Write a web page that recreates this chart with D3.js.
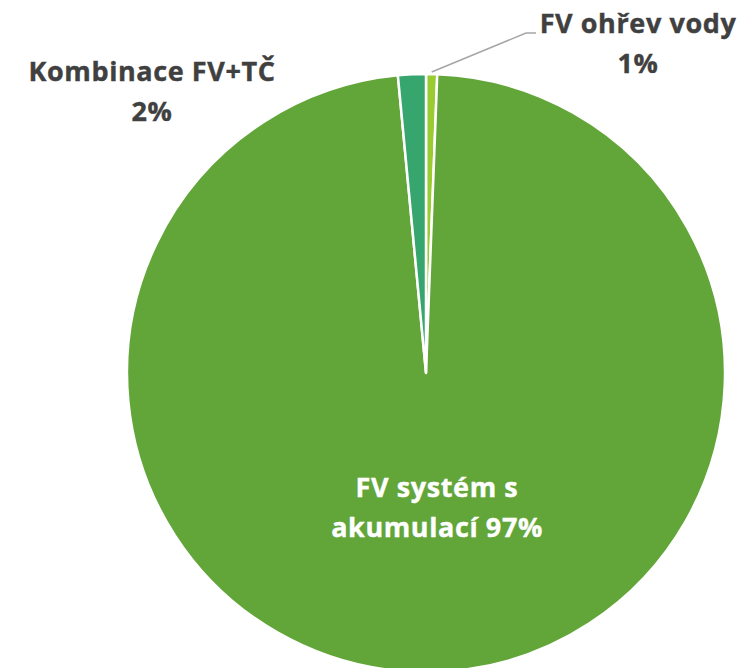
<!DOCTYPE html>
<html>
<head>
<meta charset="utf-8">
<script src="https://cdn.jsdelivr.net/npm/d3@7"></script>
<style>
  html, body { margin: 0; padding: 0; background: #fff; }
  svg text { font-family: "Open Sans", "Noto Sans", sans-serif; font-weight: bold; }
</style>
</head>
<body>
<div id="chart"></div>
<script>
// data
var categories = ["FV ohřev vody", "FV systém s akumulací", "Kombinace FV+TČ"];
var values = [0.6, 97.9, 1.5];
var pctLabels = ["1%", "97%", "2%"];
var colors = ["#99CC33", "#62A539", "#36A66E"];

const WIDTH = 742, HEIGHT = 668;
var svg = d3.select("#chart").append("svg")
    .attr("width", WIDTH)
    .attr("height", HEIGHT);

var cx = 426, cy = 373, R = 299;
var g = svg.append("g").attr("transform", "translate(" + cx + "," + cy + ")");

var pie = d3.pie().sort(null).value(function(d) { return d; });
var arc = d3.arc().innerRadius(0).outerRadius(R);
var arcs = pie(values);

g.selectAll("path")
    .data(arcs)
    .enter().append("path")
    .attr("d", arc)
    .attr("fill", function(d, i) { return colors[i]; })
    .attr("stroke", "#fff")
    .attr("stroke-width", 2.5)
    .attr("stroke-linejoin", "round");

// leader line for the small slice
var a0 = (arcs[0].startAngle + arcs[0].endAngle) / 2;
var p0 = [cx + Math.sin(a0) * (R + 2), cy - Math.cos(a0) * (R + 2)];
svg.append("polyline")
    .attr("points", [p0, [526, 33], [536, 33]].map(function(p) { return p.join(","); }).join(" "))
    .attr("fill", "none")
    .attr("stroke", "#A6A6A6")
    .attr("stroke-width", 1.5);

// labels: [x, first baseline, color, lines]
var labelPos = [
    { x: 638, y: 33, fill: "#404040", lines: [categories[0], pctLabels[0]] },
    { x: 437, y: 497, fill: "#ffffff", lines: ["FV systém s", "akumulací " + pctLabels[1]] },
    { x: 152, y: 81, fill: "#404040", lines: ["Kombinace FV+TČ", pctLabels[2]] }
];

labelPos.forEach(function(l) {
    var t = svg.append("text")
        .attr("text-anchor", "middle")
        .attr("fill", l.fill)
        .attr("font-size", 27)
        .attr("letter-spacing", 0.6)
        .attr("stroke", l.fill)
        .attr("stroke-width", 0.4);
    l.lines.forEach(function(s, k) {
        t.append("tspan").attr("x", l.x).attr("y", l.y + k * 40).text(s);
    });
});
</script>
</body>
</html>
